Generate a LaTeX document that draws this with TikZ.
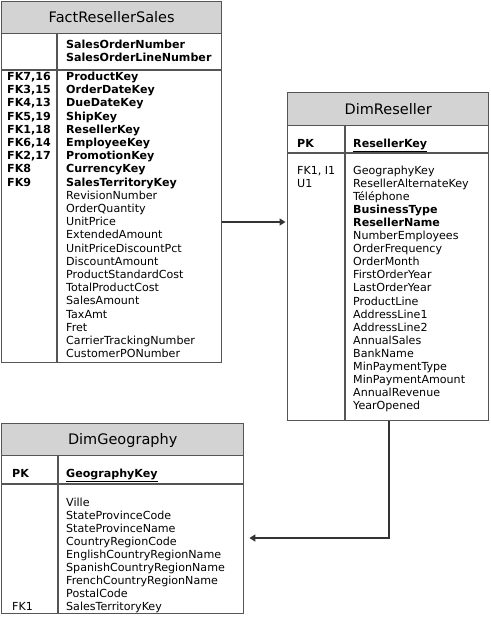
\documentclass[tikz,border=0pt]{standalone}
\usepackage{fontspec}
\setmainfont{DejaVu Sans}
\usetikzlibrary{arrows.meta}
\definecolor{hdrfill}{HTML}{D3D3D3}
\definecolor{framecol}{HTML}{555555}
\definecolor{conncol}{HTML}{333333}
\begin{document}
\begin{tikzpicture}[x=1pt,y=-1pt,
  tblbox/.style={draw=framecol, fill=white, line width=1.4pt, inner sep=0pt, anchor=north west},
  hdrbox/.style={draw=framecol, fill=hdrfill, line width=1.4pt, inner sep=0pt, anchor=north west},
  sepline/.style={draw=framecol, line width=1.4pt},
  ttl/.style={anchor=base, inner sep=0pt, font=\fontsize{14.5}{16}\selectfont},
  cell/.style={anchor=base west, inner sep=0pt, font=\fontsize{11.1}{12}\selectfont},
  bcell/.style={anchor=base west, inner sep=0pt, font=\fontsize{11.1}{12}\selectfont\bfseries},
  conn/.style={draw=conncol, line width=2pt, -{Triangle[length=6pt,width=7pt]}}]
\useasboundingbox (0,0) rectangle (490,621);

% ---------- FactResellerSales ----------
\node[tblbox, minimum width=220pt, minimum height=361pt] (fact) at (1,1) {};
\node[hdrbox, minimum width=220pt, minimum height=32pt] (facth) at (1,1) {};
\node[ttl] (factt) at ([yshift=-4.5pt]facth.center) {FactResellerSales};
\draw[sepline] (1,70) -- (221,70);
\draw[sepline] (57,33) -- (57,362);
\node[bcell] (fpk1) at (66,48.5) {SalesOrderNumber};
\node[bcell] (fpk2) at (66,61.5) {SalesOrderLineNumber};
\foreach \k/\t [count=\i] in {{FK7,16}/ProductKey, {FK3,15}/OrderDateKey, {FK4,13}/DueDateKey, {FK5,19}/ShipKey, {FK1,18}/ResellerKey, {FK6,14}/EmployeeKey, {FK2,17}/PromotionKey, FK8/CurrencyKey, FK9/SalesTerritoryKey}{
  \node[bcell] (ffk\i) at (7,{80.5+13.2*(\i-1)}) {\k};
  \node[bcell] (fkey\i) at (66,{80.5+13.2*(\i-1)}) {\t};
}
\foreach \t [count=\i] in {RevisionNumber, OrderQuantity, UnitPrice, ExtendedAmount, UnitPriceDiscountPct, DiscountAmount, ProductStandardCost, TotalProductCost, SalesAmount, TaxAmt, Fret, CarrierTrackingNumber, CustomerPONumber}{
  \node[cell] (fcol\i) at (66,{80.5+13.2*(\i+8)}) {\t};
}

% ---------- DimReseller ----------
\node[tblbox, minimum width=201pt, minimum height=328pt] (res) at (287,92) {};
\node[hdrbox, minimum width=201pt, minimum height=33pt] (resh) at (287,92) {};
\node[ttl] (rest) at ([yshift=-5pt]resh.center) {DimReseller};
\draw[sepline] (287,153) -- (488,153);
\draw[sepline] (345,125) -- (345,420);
\node[bcell] (rpk) at (297,147) {PK};
\node[bcell] (rpkcol) at (353,147) {\underline{ResellerKey}};
\node[cell] (rfk1) at (297,174.5) {FK1, I1};
\node[cell] (rfk2) at (297,187.55) {U1};
\foreach \t/\b [count=\i] in {GeographyKey/0, ResellerAlternateKey/0, Téléphone/0, BusinessType/1, ResellerName/1, NumberEmployees/0, OrderFrequency/0, OrderMonth/0, FirstOrderYear/0, LastOrderYear/0, ProductLine/0, AddressLine1/0, AddressLine2/0, AnnualSales/0, BankName/0, MinPaymentType/0, MinPaymentAmount/0, AnnualRevenue/0, YearOpened/0}{
  \ifnum\b=1
    \node[bcell] (rcol\i) at (353,{174.5+13.05*(\i-1)}) {\t};
  \else
    \node[cell] (rcol\i) at (353,{174.5+13.05*(\i-1)}) {\t};
  \fi
}

% ---------- DimGeography ----------
\node[tblbox, minimum width=242pt, minimum height=190pt] (geo) at (1,423) {};
\node[hdrbox, minimum width=242pt, minimum height=32pt] (geoh) at (1,423) {};
\node[ttl] (geot) at ([yshift=-5pt]geoh.center) {DimGeography};
\draw[sepline] (1,484) -- (243,484);
\draw[sepline] (58,455) -- (58,613);
\node[bcell] (gpk) at (12,477) {PK};
\node[bcell] (gpkcol) at (66,477) {\underline{GeographyKey}};
\foreach \t [count=\i] in {Ville, StateProvinceCode, StateProvinceName, CountryRegionCode, EnglishCountryRegionName, SpanishCountryRegionName, FrenchCountryRegionName, PostalCode, SalesTerritoryKey}{
  \node[cell] (gcol\i) at (66,{506+13*(\i-1)}) {\t};
}
\node[cell] (gfk) at (12,610) {FK1};

% ---------- connectors ----------
\coordinate (a1) at (0,222);
\draw[conn] (fact.east |- a1) -- ([xshift=-1.5pt]res.west |- a1);
\coordinate (a2) at (389,538);
\draw[conn] (res.south -| a2) |- ([xshift=5pt]geo.east |- a2);
\end{tikzpicture}
\end{document}
